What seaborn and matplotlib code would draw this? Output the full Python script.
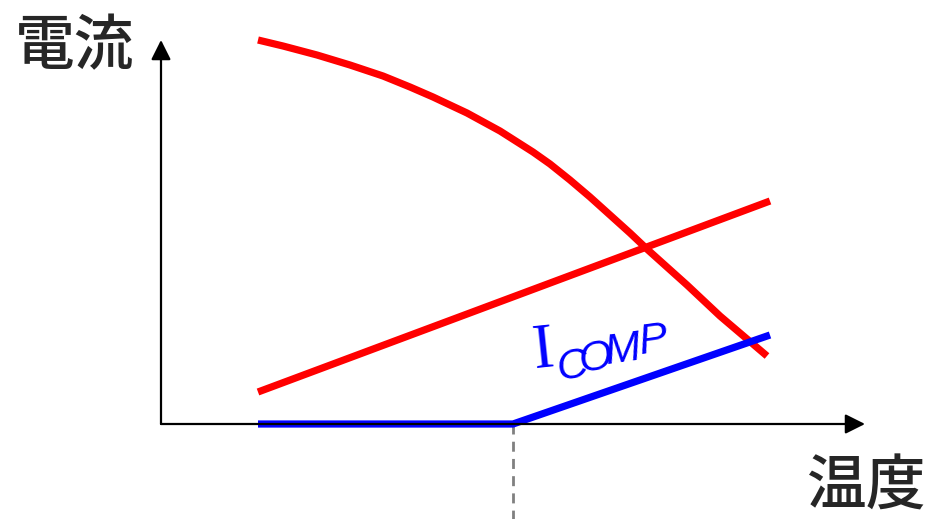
import numpy as np
import pandas as pd
import seaborn as sns
import matplotlib.pyplot as plt

# values (origin of the axes = (0, 0))
curve_x = [97, 122, 156, 189, 222, 249, 272, 306, 339, 372, 389, 409, 429,
           449, 469, 487, 526, 559, 606]
curve_y = [384, 378, 369, 359, 348, 337, 327, 311, 293, 272, 260, 244, 227,
           209, 191, 174, 139, 108, 68]

line_x = [97, 609]
line_y = [32, 223]

comp_x = [97, 352, 609]
comp_y = [0, 0, 89]

knee_x = 352
axis_len_x = 704
axis_len_y = 384

sub_letters = ['C', 'O', 'M', 'P']
sub_x = [411, 435, 462, 492]
sub_y = [57, 65, 73, 83]

sns.set_style('white')
plt.rcParams['font.family'] = ['Noto Sans CJK JP', 'DejaVu Sans']

fig = plt.figure(figsize=(9.27, 5.19), dpi=100)
ax = fig.add_axes([0, 0, 1, 1])
ax.set_xlim(-161, 766)
ax.set_ylim(-95, 424)
ax.axis('off')

red = pd.DataFrame({'x': curve_x, 'y': curve_y})
sns.lineplot(data=red, x='x', y='y', sort=False, estimator=None, color='#ff0000',
             lw=5.2, ax=ax, solid_capstyle='butt', solid_joinstyle='round')
sns.lineplot(x=line_x, y=line_y, sort=False, estimator=None, color='#ff0000',
             lw=5.2, ax=ax, solid_capstyle='butt')

# axes with arrow heads
arrow = dict(arrowstyle='-|>', lw=1.6, color='black', mutation_scale=30,
             shrinkA=0, shrinkB=0)
ax.annotate('', xy=(0, axis_len_y), xytext=(0, 0), arrowprops=arrow)
ax.annotate('', xy=(axis_len_x, 0), xytext=(0, 0), arrowprops=arrow)

ax.plot([knee_x, knee_x], [0, -95], color='#808080', lw=2, dashes=(3.6, 2.6))

sns.lineplot(x=comp_x, y=comp_y, sort=False, estimator=None, color='#0000ff',
             lw=5.2, ax=ax, solid_capstyle='butt')

ax.text(-146, 377, '電流', fontsize=43, fontweight='medium', va='center', ha='left')
ax.text(646, -63, '温度', fontsize=43, fontweight='medium', va='center', ha='left')

ax.text(383, 72, 'I', fontsize=45, color='#0000ff', family='Liberation Serif',
        rotation=6, ha='center', va='center')
for ch, cx, cy in zip(sub_letters, sub_x, sub_y):
    ax.text(cx, cy, ch, fontsize=31, color='#0000ff', rotation=8,
            family=['Liberation Sans Narrow', 'Liberation Sans'], style='italic',
            ha='center', va='center')

fig.savefig('out.png', dpi=100)
